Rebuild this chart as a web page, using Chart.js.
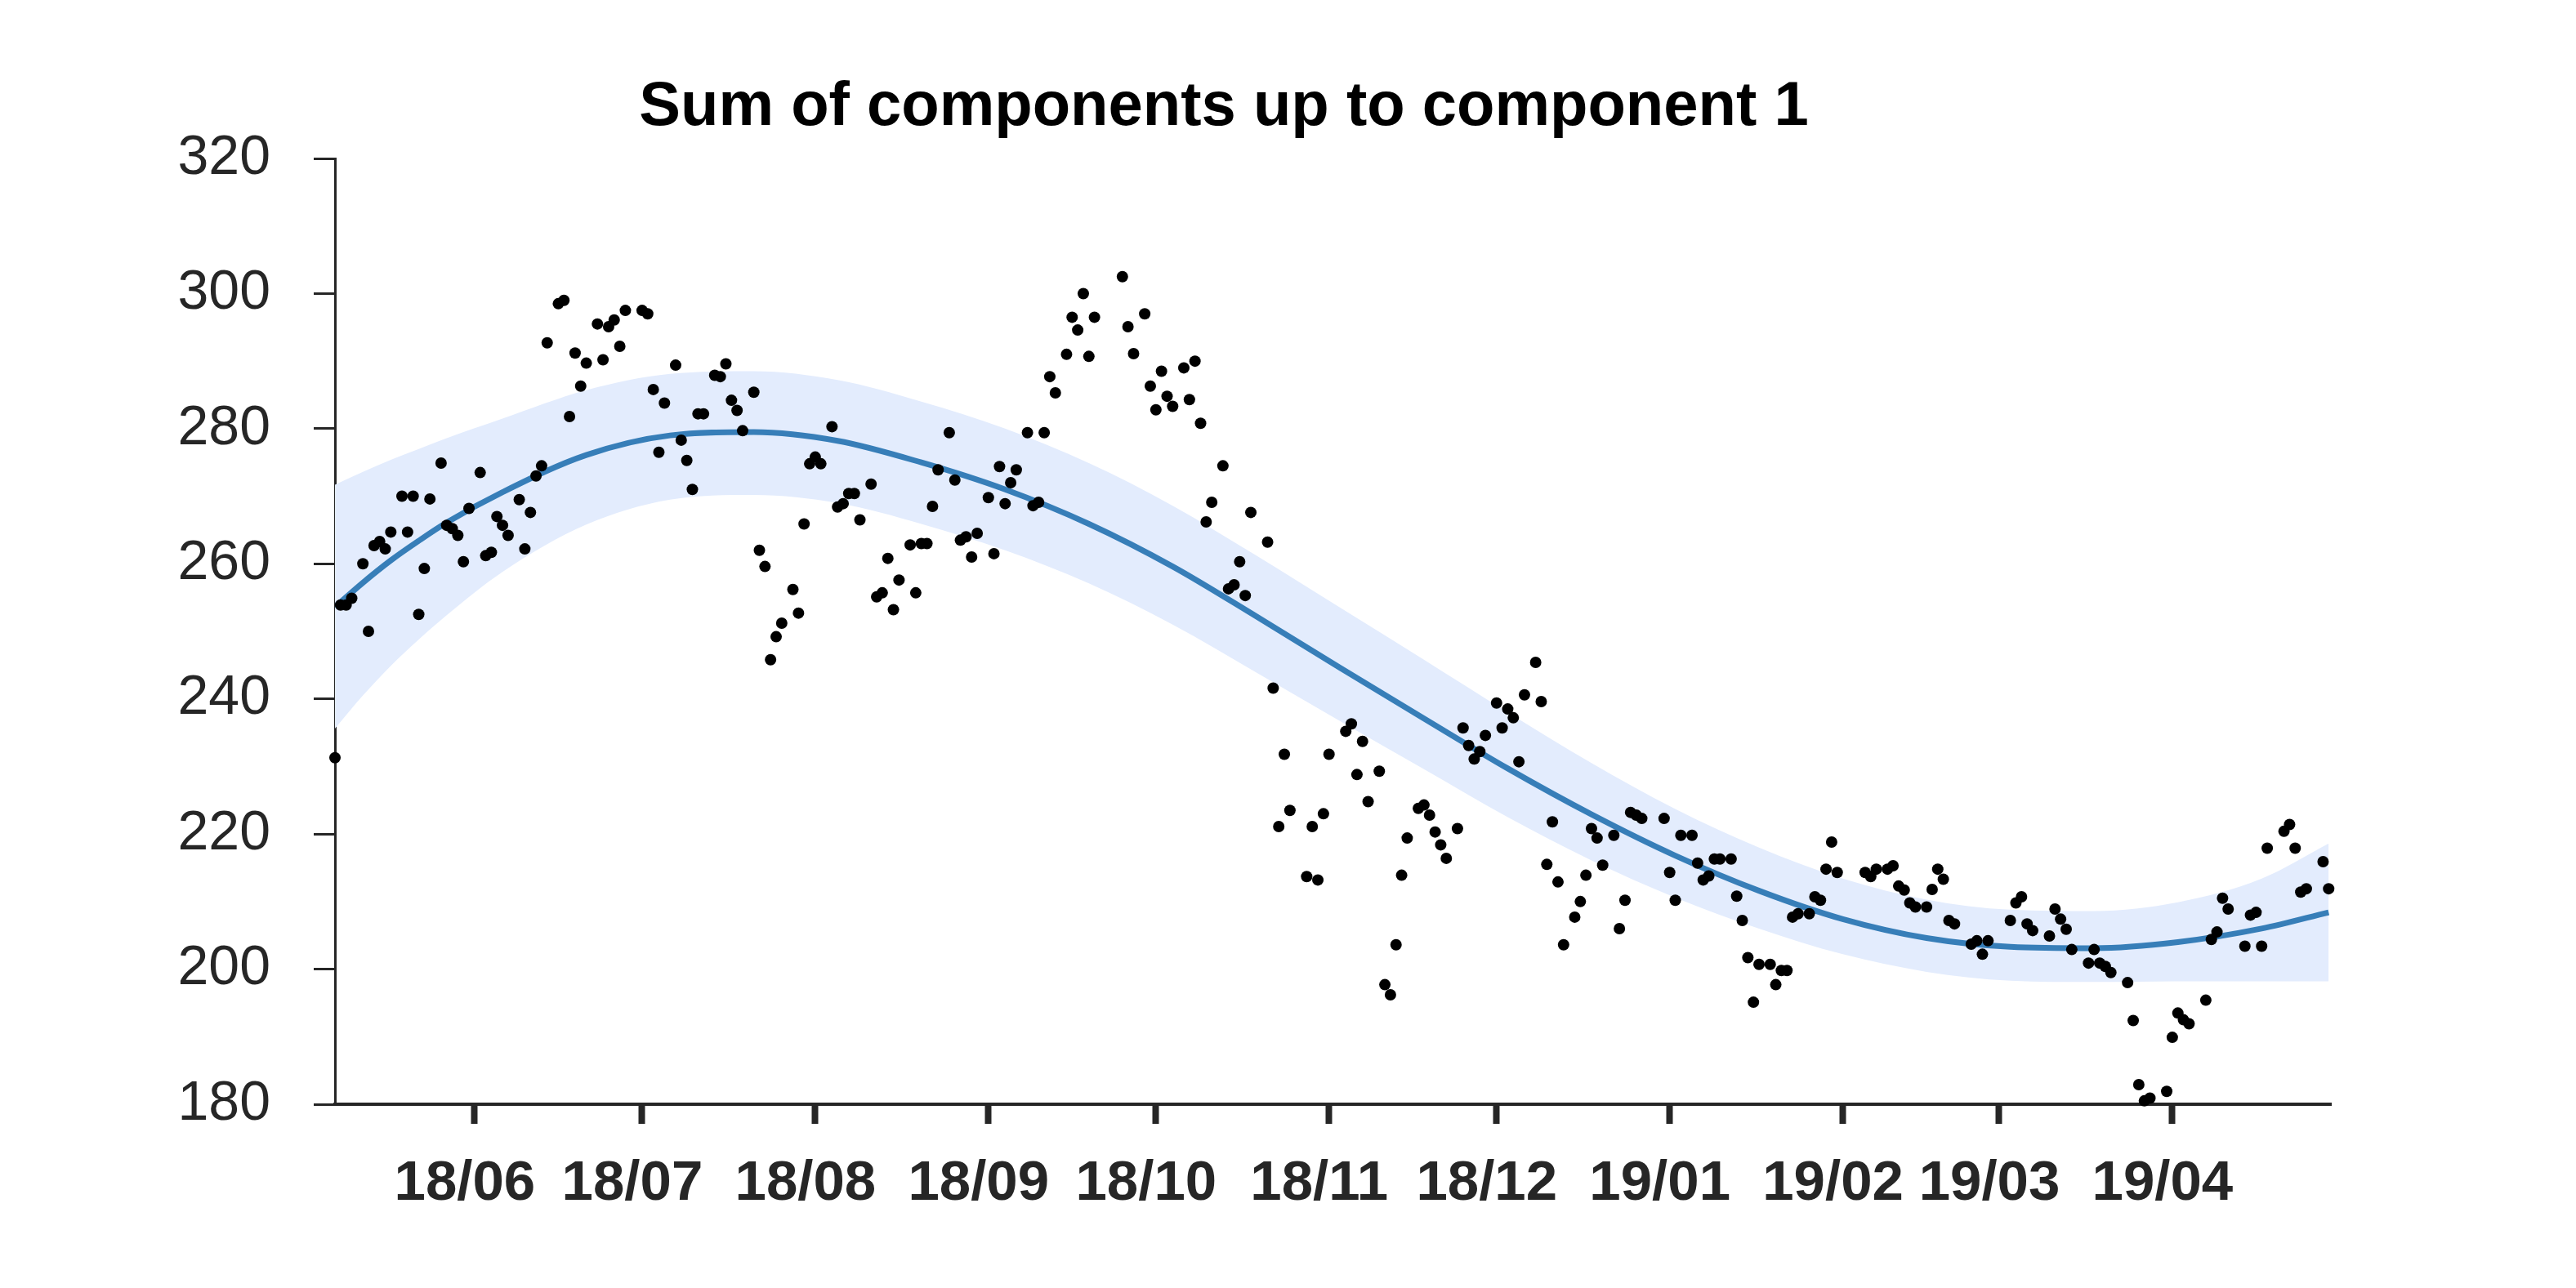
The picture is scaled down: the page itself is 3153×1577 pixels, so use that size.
<!DOCTYPE html>
<html>
<head>
<meta charset="utf-8">
<title>Sum of components up to component 1</title>
<script src="https://cdn.jsdelivr.net/npm/chart.js@4.4.1/dist/chart.umd.min.js"></script>
<style>
  html, body { margin: 0; padding: 0; background: #fff; }
  canvas { display: block; }
</style>
</head>
<body>
<canvas id="chart" width="3153" height="1577"></canvas>
<script>
const TITLE = "Sum of components up to component 1";
const FONT = "'Liberation Sans', Arial, Helvetica, sans-serif";

// observations, x = day number counted from 2018-05-07
const obsDays = [
  0, 1, 2, 3, 5, 6, 7, 8, 9, 10, 12, 13, 14, 15, 16, 17, 19, 20, 21, 22, 23, 24,
  26, 27, 28, 29, 30, 31, 33, 34, 35, 36, 37, 38, 40, 41, 42, 43, 44, 45,
  47, 48, 49, 50, 51, 52, 55, 56, 57, 58, 59, 61, 62, 63, 64, 65, 66,
  68, 69, 70, 71, 72, 73, 75, 76, 77, 78, 79, 80, 82, 83, 84, 85, 86, 87,
  89, 90, 91, 92, 93, 94, 96, 97, 98, 99, 100, 101, 103, 104, 105, 106, 107, 108,
  110, 111, 112, 113, 114, 115, 117, 118, 119, 120, 121, 122, 124, 125, 126, 127, 128, 129,
  131, 132, 133, 134, 135, 136, 141, 142, 143, 145, 146, 147, 148, 149, 150,
  152, 153, 154, 155, 156, 157, 159, 160, 161, 162, 163, 164, 167, 168, 169, 170, 171,
  174, 175, 176, 177, 178, 181, 182, 183, 184, 185, 187, 188, 189, 190, 191, 192,
  194, 195, 196, 197, 198, 199, 201, 202, 203, 204, 205, 206, 208, 209, 210, 211, 212, 213,
  215, 216, 217, 218, 219, 220, 222, 223, 224, 225, 226, 227, 229, 230, 231, 232, 233, 234,
  238, 239, 240, 241, 243, 244, 245, 246, 247, 248, 250, 251, 252, 253, 254, 255,
  257, 258, 259, 260, 261, 262, 264, 265, 266, 267, 268, 269, 274, 275, 276,
  278, 279, 280, 281, 282, 283, 285, 286, 287, 288, 289, 290, 293, 294, 295, 296,
  300, 301, 302, 303, 304, 307, 308, 309, 310, 311, 314, 315, 316, 317, 318,
  321, 322, 323, 324, 325, 328, 329, 330, 331, 332, 335, 336, 337, 338, 339,
  342, 343, 344, 345, 346, 349, 350, 351, 352, 353, 356, 357
];
const obsValues = [
  231.3, 253.9, 253.9, 254.9, 260.0, 250.0, 262.7, 263.3, 262.2, 264.7, 270.0, 264.7, 270.0, 252.5, 259.3, 269.6, 274.9, 265.7, 265.2, 264.2, 260.3, 268.2,
  273.5, 261.2, 261.7, 267.0, 265.7, 264.2, 269.5, 262.2, 267.6, 273.0, 274.5, 292.7, 298.5, 299.0, 281.8, 291.2, 286.3, 289.7,
  295.5, 290.2, 295.1, 296.1, 292.2, 297.5, 297.5, 297.0, 285.8, 276.5, 283.8, 289.4, 278.3, 275.3, 271.0, 282.2, 282.2,
  287.9, 287.7, 289.6, 284.2, 282.7, 279.7, 285.4, 262.0, 259.6, 245.8, 249.2, 251.2, 256.2, 252.7, 265.9, 274.8, 275.8, 274.8,
  280.3, 268.4, 268.9, 270.4, 270.4, 266.5, 271.8, 255.1, 255.7, 260.8, 253.2, 257.6, 262.8, 255.7, 263.0, 263.0, 268.5, 273.9,
  279.4, 272.4, 263.5, 264.0, 261.0, 264.5, 269.8, 261.5, 274.4, 268.9, 272.0, 273.9, 279.4, 268.6, 269.1, 279.4, 287.7, 285.3,
  291.0, 296.5, 294.6, 300.0, 290.7, 296.5, 302.5, 295.1, 291.1, 297.0, 286.3, 282.8, 288.5, 284.8, 283.3,
  289.0, 284.3, 290.0, 280.8, 266.2, 269.1, 274.5, 256.3, 256.9, 260.3, 255.3, 267.6, 263.2, 241.6, 221.1, 231.8, 223.5,
  213.7, 221.1, 213.2, 223.0, 231.8, 235.2, 236.3, 228.8, 233.7, 224.8, 229.3, 197.7, 196.2, 203.6, 213.9, 219.4,
  223.8, 224.3, 222.8, 220.3, 218.4, 216.4, 220.8, 235.7, 233.1, 231.1, 232.2, 234.6, 239.4, 235.7, 238.5, 237.2, 230.7, 240.6,
  245.4, 239.6, 215.5, 221.8, 212.9, 203.6, 207.7, 210.0, 213.9, 220.8, 219.4, 215.4, 219.8, 206.0, 210.2, 223.2, 222.8, 222.3,
  222.3, 214.3, 210.2, 219.8, 219.8, 215.7, 213.2, 213.8, 216.3, 216.3, 216.3, 210.8, 207.2, 201.7, 195.1, 200.7,
  200.7, 197.7, 199.8, 199.8, 207.7, 208.2, 208.2, 210.7, 210.2, 214.8, 218.8, 214.3, 214.3, 213.7, 214.8,
  214.8, 215.3, 212.3, 211.7, 209.8, 209.2, 209.2, 211.8, 214.8, 213.3, 207.2, 206.7, 203.7, 204.2, 202.2, 204.2,
  207.2, 209.8, 210.7, 206.7, 205.7, 204.9, 208.9, 207.4, 205.9, 202.9, 200.9, 202.9, 200.9, 200.4, 199.5,
  198.0, 192.4, 182.9, 180.5, 180.9, 181.9, 189.9, 193.5, 192.5, 191.9, 195.4, 204.4, 205.5, 210.5, 208.9,
  203.4, 208.0, 208.4, 203.4, 217.9, 220.4, 221.4, 217.9, 211.4, 211.9, 215.9, 211.9
];

// fitted component and its band, read at these days
const fitDays   = [0, 5, 10, 15, 20, 30, 45, 60, 75, 90, 105, 120, 135, 150, 165, 180, 195, 210, 225, 240, 255, 270, 285, 300, 315, 330, 345, 357];
const fitValues = [253.6, 257.2, 260.5, 263.4, 266.1, 270.6, 276.1, 279.0, 279.5, 278.2, 275.0, 271.0, 265.9, 259.6, 252.2, 244.6, 237.1, 229.7, 222.9, 216.8, 211.6, 207.4, 204.6, 203.3, 203.1, 204.0, 206.0, 208.4];
const bandUpper = [271.7, 273.6, 275.4, 277.0, 278.6, 281.5, 285.7, 288.1, 288.5, 287.2, 284.0, 280.0, 274.9, 268.6, 261.2, 253.5, 245.8, 238.0, 230.5, 223.7, 218.0, 213.4, 210.3, 208.8, 208.6, 209.9, 213.4, 218.6];
const bandLower = [235.6, 240.5, 244.9, 248.8, 252.4, 258.8, 265.8, 269.5, 270.2, 269.0, 265.9, 262.0, 257.1, 251.0, 243.9, 236.7, 229.6, 222.5, 216.1, 210.6, 206.0, 202.2, 199.6, 198.3, 198.1, 198.2, 198.2, 198.2];

// month ticks
const monthDays   = [25, 55, 86, 117, 147, 178, 208, 239, 270, 298, 329];
const monthLabels = ["18/06", "18/07", "18/08", "18/09", "18/10", "18/11", "18/12", "19/01", "19/02", "19/03", "19/04"];

const xRange = [0, 357.4];
const yRange = [180, 320];
const yStep = 20;

const toPoints = (xs, ys) => xs.map((x, i) => ({ x: x, y: ys[i] }));

// title sits left of the plot centre in the original figure
const titlePlugin = {
  id: "plotTitle",
  afterDraw(chart) {
    const ctx = chart.ctx;
    ctx.save();
    ctx.font = "bold 76px " + FONT;
    ctx.fillStyle = "#000000";
    ctx.textAlign = "center";
    ctx.textBaseline = "alphabetic";
    ctx.fillText(TITLE, 1498, 153);
    ctx.restore();
  }
};

new Chart(document.getElementById("chart"), {
  type: "scatter",
  data: {
    datasets: [
      {
        label: "observed",
        data: toPoints(obsDays, obsValues),
        backgroundColor: "#000000",
        borderWidth: 0,
        pointRadius: 7,
        clip: false,
        order: 0
      },
      {
        label: "fit",
        data: toPoints(fitDays, fitValues),
        showLine: true,
        borderColor: "#377eb8",
        borderWidth: 7,
        pointRadius: 0,
        cubicInterpolationMode: "monotone",
        fill: false,
        order: 1
      },
      {
        label: "upper",
        data: toPoints(fitDays, bandUpper),
        showLine: true,
        borderWidth: 0,
        borderColor: "rgba(0,0,0,0)",
        backgroundColor: "rgb(227,236,253)",
        pointRadius: 0,
        cubicInterpolationMode: "monotone",
        fill: "+1",
        order: 2
      },
      {
        label: "lower",
        data: toPoints(fitDays, bandLower),
        showLine: true,
        borderWidth: 0,
        borderColor: "rgba(0,0,0,0)",
        pointRadius: 0,
        cubicInterpolationMode: "monotone",
        fill: false,
        order: 3
      }
    ]
  },
  options: {
    responsive: false,
    animation: false,
    events: [],
    layout: { padding: { top: 194, right: 300, bottom: 0, left: 0 } },
    plugins: {
      legend: { display: false },
      tooltip: { enabled: false },
      title: { display: false }
    },
    scales: {
      x: {
        type: "linear",
        min: xRange[0],
        max: xRange[1],
        afterFit: s => { s.height = 225; },
        afterBuildTicks: s => { s.ticks = monthDays.map(v => ({ value: v })); },
        border: { display: true, color: "#262626", width: 4 },
        grid: { drawOnChartArea: false, drawTicks: true, tickLength: 24, tickWidth: 8, tickColor: "#262626" },
        ticks: {
          autoSkip: false, maxRotation: 0, minRotation: 0,
          padding: 33, labelOffset: -12,
          color: "#262626",
          font: { family: FONT, size: 69, weight: "bold" },
          callback: (value, index) => monthLabels[index]
        }
      },
      y: {
        type: "linear",
        min: yRange[0],
        max: yRange[1],
        afterFit: s => { s.width = 410; },
        border: { display: true, color: "#262626", width: 3 },
        grid: { drawOnChartArea: false, drawTicks: true, tickLength: 26, tickWidth: 3, tickColor: "#262626" },
        ticks: {
          stepSize: yStep,
          padding: 53,
          color: "#262626",
          font: { family: FONT, size: 68 }
        }
      }
    }
  },
  plugins: [titlePlugin]
});
</script>
</body>
</html>
